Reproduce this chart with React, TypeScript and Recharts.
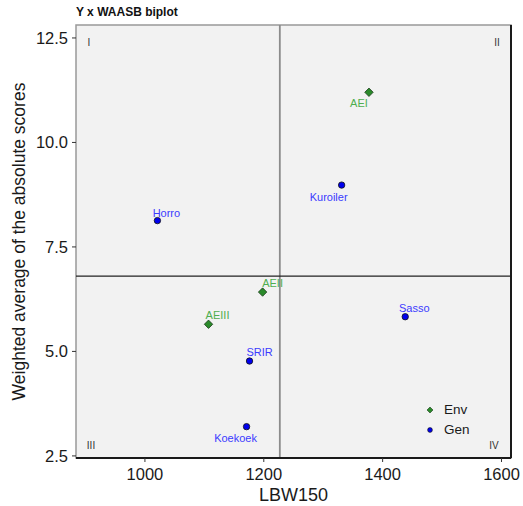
import React from 'react';
import {
  ScatterChart, Scatter, XAxis, YAxis, CartesianGrid, ReferenceLine, ReferenceArea,
} from 'recharts';

// genotypes
const genNames = ['Horro', 'Kuroiler', 'Sasso', 'SRIR', 'Koekoek'];
const genLBW = [1021, 1331, 1438, 1176, 1171];
const genWAASB = [8.13, 8.98, 5.83, 4.77, 3.2];

// environments
const envNames = ['AEI', 'AEII', 'AEIII'];
const envLBW = [1377, 1198, 1107];
const envWAASB = [11.2, 6.42, 5.65];

const meanLBW = 1227;
const meanWAASB = 6.8;

const xTicks = [1000, 1200, 1400, 1600];
const yTicks = [2.5, 5.0, 7.5, 10.0, 12.5];
const xDomain = [884, 1616];
const yDomain = [2.45, 12.81];

const quadNames = ['I', 'II', 'III', 'IV'];

// where the repelled labels sit relative to their point (px)
const labelOffset: Record<string, [number, number]> = {
  Horro: [9, -8],
  Kuroiler: [-13, 12],
  Sasso: [9, -9],
  SRIR: [10, -9],
  Koekoek: [-11, 11],
  AEI: [-10, 11],
  AEII: [10, -9],
  AEIII: [9, -9],
};
const quadOffset: Record<string, [number, number]> = {
  I: [13, 17],
  II: [-14, 17],
  III: [15, -13],
  IV: [-17, -13],
};

const FONT = '"Liberation Sans", Arial, sans-serif';
const GEN_COLOR = '#0000ee';
const ENV_COLOR = '#2a8a2a';

const genData = genNames.map((n, i) => ({ name: n, x: genLBW[i], y: genWAASB[i] }));
const envData = envNames.map((n, i) => ({ name: n, x: envLBW[i], y: envWAASB[i] }));
const quadData = [
  { name: quadNames[0], x: xDomain[0], y: yDomain[1] },
  { name: quadNames[1], x: xDomain[1], y: yDomain[1] },
  { name: quadNames[2], x: xDomain[0], y: yDomain[0] },
  { name: quadNames[3], x: xDomain[1], y: yDomain[0] },
];

const GenShape = (props: any) => {
  const { cx, cy, payload } = props;
  const [dx, dy] = labelOffset[payload.name] || [0, -9];
  return (
    <g>
      <circle cx={cx} cy={cy} r={3.2} fill={GEN_COLOR} stroke="#111" strokeWidth={0.8} />
      <text x={cx + dx} y={cy + dy} textAnchor="middle" dominantBaseline="central"
        fontSize={11} fontFamily={FONT} fill="#3b3bff">{payload.name}</text>
    </g>
  );
};

const EnvShape = (props: any) => {
  const { cx, cy, payload } = props;
  const [dx, dy] = labelOffset[payload.name] || [0, -9];
  const s = 4.2;
  return (
    <g>
      <path d={`M${cx},${cy - s}L${cx + s},${cy}L${cx},${cy + s}L${cx - s},${cy}Z`}
        fill={ENV_COLOR} stroke="#1a3a1a" strokeWidth={0.8} />
      <text x={cx + dx} y={cy + dy} textAnchor="middle" dominantBaseline="central"
        fontSize={11} fontFamily={FONT} fill="#4fae4f">{payload.name}</text>
    </g>
  );
};

const QuadShape = (props: any) => {
  const { cx, cy, payload } = props;
  const [dx, dy] = quadOffset[payload.name];
  return (
    <text x={cx + dx} y={cy + dy} textAnchor="middle" dominantBaseline="central"
      fontSize={10} fontFamily={FONT} fill="#333">{payload.name}</text>
  );
};

const YTitle = (props: any) => {
  const vb = props.viewBox || {};
  const x = 19;
  const y = vb.y + vb.height / 2;
  return (
    <text x={x} y={y} transform={`rotate(-90 ${x} ${y})`} textAnchor="middle"
      dominantBaseline="central" fontSize={17.5} fontFamily={FONT} fill="#1a1a1a">
      Weighted average of the absolute scores
    </text>
  );
};

export default function App() {
  return (
    <div style={{ position: 'absolute', left: 0, top: 0, width: 523, height: 506, background: '#fff', fontFamily: FONT }}>
      <div style={{ position: 'absolute', left: 76, top: 5, fontSize: 12, fontWeight: 'bold', color: '#111' }}>
        Y x WAASB biplot
      </div>
      <ScatterChart width={523} height={506} margin={{ top: 25, right: 12, left: 0, bottom: 0 }}>
        <CartesianGrid fill="#f2f2f2" horizontal={false} vertical={false} />
        <XAxis type="number" dataKey="x" domain={xDomain} ticks={xTicks} allowDataOverflow
          height={48} axisLine={false} tickSize={4} tickMargin={6}
          tickLine={{ stroke: '#333' }}
          tick={{ fontSize: 16.5, fill: '#1a1a1a', fontFamily: FONT }}
          label={{ value: 'LBW150', position: 'insideBottom', offset: 5, fontSize: 18, fill: '#1a1a1a', fontFamily: FONT }} />
        <YAxis type="number" dataKey="y" domain={yDomain} ticks={yTicks} allowDataOverflow
          width={76} axisLine={false} tickSize={4} tickMargin={4}
          tickLine={{ stroke: '#333' }}
          tickFormatter={(v: number) => v.toFixed(1)}
          tick={{ fontSize: 16.5, fill: '#1a1a1a', fontFamily: FONT }}
          label={{ content: <YTitle /> }} />
        <ReferenceLine x={meanLBW} stroke="#8c8c8c" strokeWidth={1.8} />
        <ReferenceLine y={meanWAASB} stroke="#222" strokeWidth={1.2} />
        <Scatter data={quadData} shape={<QuadShape />} isAnimationActive={false} />
        <Scatter data={envData} shape={<EnvShape />} isAnimationActive={false} />
        <Scatter data={genData} shape={<GenShape />} isAnimationActive={false} />
        <ReferenceArea x1={xDomain[0]} x2={xDomain[1]} y1={yDomain[0]} y2={yDomain[1]}
          fill="none" stroke="#999" strokeWidth={1.5} ifOverflow="visible" />
        <ReferenceLine x={xDomain[1]} stroke="#1a1a1a" strokeWidth={2} ifOverflow="visible" />
        <ReferenceLine y={yDomain[0]} stroke="#1a1a1a" strokeWidth={2} ifOverflow="visible" />
      </ScatterChart>
      <div style={{ position: 'absolute', left: 424, top: 400, fontSize: 13.5, color: '#1a1a1a', lineHeight: '20px' }}>
        <div style={{ display: 'flex', alignItems: 'center' }}>
          <svg width={12} height={12}><path d="M6,3L9,6L6,9L3,6Z" fill={ENV_COLOR} stroke="#1a3a1a" strokeWidth={0.6} /></svg>
          <span style={{ marginLeft: 8 }}>Env</span>
        </div>
        <div style={{ display: 'flex', alignItems: 'center' }}>
          <svg width={12} height={12}><circle cx={6} cy={6} r={2.4} fill={GEN_COLOR} stroke="#111" strokeWidth={0.6} /></svg>
          <span style={{ marginLeft: 8 }}>Gen</span>
        </div>
      </div>
    </div>
  );
}
